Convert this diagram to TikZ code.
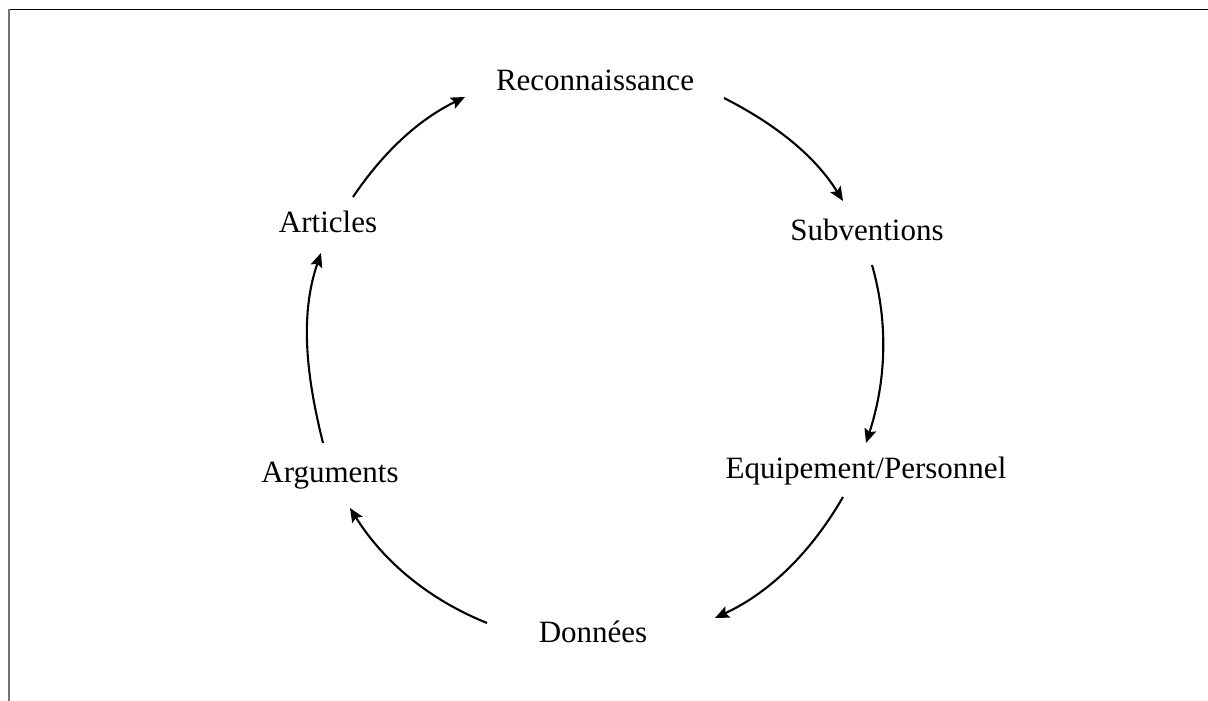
\documentclass[tikz,border=0pt]{standalone}
\usepackage{fontspec}
\setmainfont{Liberation Serif}
\usetikzlibrary{arrows.meta,calc}
\begin{document}
\begin{tikzpicture}[x=1pt,y=1pt,
  lbl/.style={anchor=base,inner sep=0pt,font=\fontsize{31}{36}\selectfont},
  arr/.style={-{Stealth[length=14pt,width=12pt,inset=2.5pt]},line width=2.1pt,looseness=0.9}]
\useasboundingbox (0,0) rectangle (1208,701);
\draw[line width=1.5pt] (8,691.5) -- (1208,691.5);
\draw[line width=2pt,black!55] (8.5,691.5) -- (8.5,0);
\node[lbl] (recon) at (595,610) {Reconnaissance};
\node[lbl] (subv) at (867,460) {Subventions};
\node[lbl] (equip) at (866,222) {Equipement/Personnel};
\node[lbl] (donnees) at (593,58) {Données};
\node[lbl] (args) at (330,218) {Arguments};
\node[lbl] (articles) at (328,468) {Articles};
\draw[arr] ($(articles.base)+(25,36)$) to[out=56,in=206] ($(recon.base)+(-130,-6)$);
\draw[arr] ($(recon.base)+(129,-7)$) to[out=-27,in=122] ($(subv.base)+(-24,40)$);
\draw[arr] ($(subv.base)+(5,-24)$) to[out=-74,in=72] ($(equip.base)+(0,36)$);
\draw[arr] ($(equip.base)+(-23,-18)$) to[out=-120,in=25] ($(donnees.base)+(122,25)$);
\draw[arr] ($(donnees.base)+(-106,20)$) to[out=158,in=302] ($(args.base)+(20,-25)$);
\draw[arr] ($(args.base)+(-7,40)$) to[out=104,in=251] ($(articles.base)+(-7,-20)$);
\end{tikzpicture}
\end{document}
